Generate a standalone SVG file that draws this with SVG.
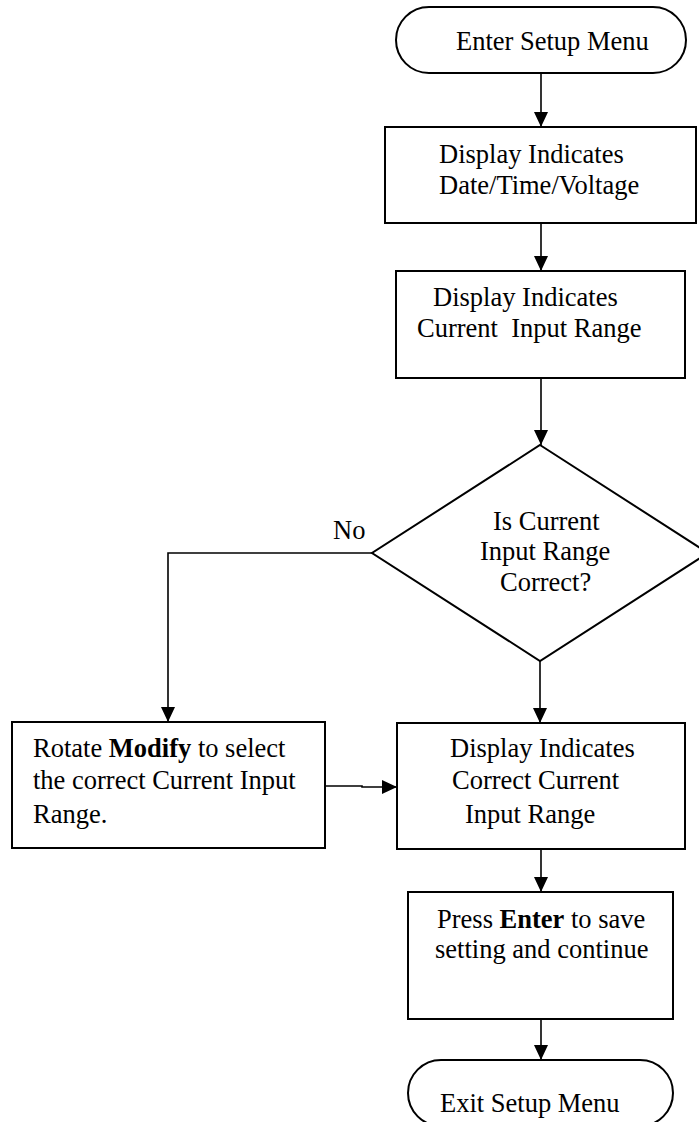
<svg xmlns="http://www.w3.org/2000/svg" width="699" height="1122" viewBox="0 0 699 1122">
<style>
.shape{fill:#fff;stroke:#000;stroke-width:2}
.conn{fill:none;stroke:#000;stroke-width:1.6}
text{font-family:"Liberation Serif","Times New Roman",serif;font-size:26.5px;fill:#000;white-space:pre}
.b{font-weight:bold}
</style>
<defs>
<marker id="arr" markerUnits="userSpaceOnUse" markerWidth="15" markerHeight="14" refX="15" refY="7" orient="auto" viewBox="0 0 15 14">
<path d="M0,0 L15,7 L0,14 z" fill="#000"/>
</marker>
</defs>
<rect width="699" height="1122" fill="#fff"/>
<g id="connectors">
<line class="conn" x1="541" y1="73" x2="541" y2="127" marker-end="url(#arr)"/>
<line class="conn" x1="541" y1="223" x2="541" y2="271" marker-end="url(#arr)"/>
<line class="conn" x1="541" y1="378" x2="541" y2="445" marker-end="url(#arr)"/>
<polyline class="conn" points="372,553 168,553 168,722" marker-end="url(#arr)"/>
<line class="conn" x1="540" y1="661" x2="540" y2="723" marker-end="url(#arr)"/>
<polyline class="conn" points="325,786 362,786 362,787 397,787" marker-end="url(#arr)"/>
<line class="conn" x1="541" y1="849" x2="541" y2="892" marker-end="url(#arr)"/>
<line class="conn" x1="541" y1="1019" x2="541" y2="1060" marker-end="url(#arr)"/>
<text x="333" y="539">No</text>
</g>
<g id="start">
<rect class="shape" x="396" y="7" width="290" height="66" rx="33" ry="33"/>
<text x="456" y="50">Enter Setup Menu</text>
</g>
<g id="show-datetime">
<rect class="shape" x="385" y="127" width="311" height="96"/>
<text x="439" y="163">Display Indicates</text>
<text x="439" y="194">Date/Time/Voltage</text>
</g>
<g id="show-range">
<rect class="shape" x="396" y="271" width="289" height="107"/>
<text x="433" y="306">Display Indicates</text>
<text x="417" y="337">Current  Input Range</text>
</g>
<g id="decision">
<polygon class="shape" points="540,445 708,553 540,661 372,553"/>
<text x="493" y="530">Is Current</text>
<text x="480" y="560">Input Range</text>
<text x="500" y="591">Correct?</text>
</g>
<g id="rotate-modify">
<rect class="shape" x="12" y="722" width="313" height="126"/>
<text x="33" y="757">Rotate <tspan class="b">Modify</tspan> to select</text>
<text x="33" y="789">the correct Current Input</text>
<text x="33" y="823">Range.</text>
</g>
<g id="show-correct">
<rect class="shape" x="397" y="723" width="288" height="126"/>
<text x="450" y="757">Display Indicates</text>
<text x="452" y="789">Correct Current</text>
<text x="465" y="823">Input Range</text>
</g>
<g id="press-enter">
<rect class="shape" x="408" y="892" width="265" height="127"/>
<text x="437" y="928">Press <tspan class="b">Enter</tspan> to save</text>
<text x="435" y="958">setting and continue</text>
</g>
<g id="exit">
<rect class="shape" x="408" y="1060" width="265" height="66" rx="33" ry="33"/>
<text x="440" y="1112">Exit Setup Menu</text>
</g>
</svg>
